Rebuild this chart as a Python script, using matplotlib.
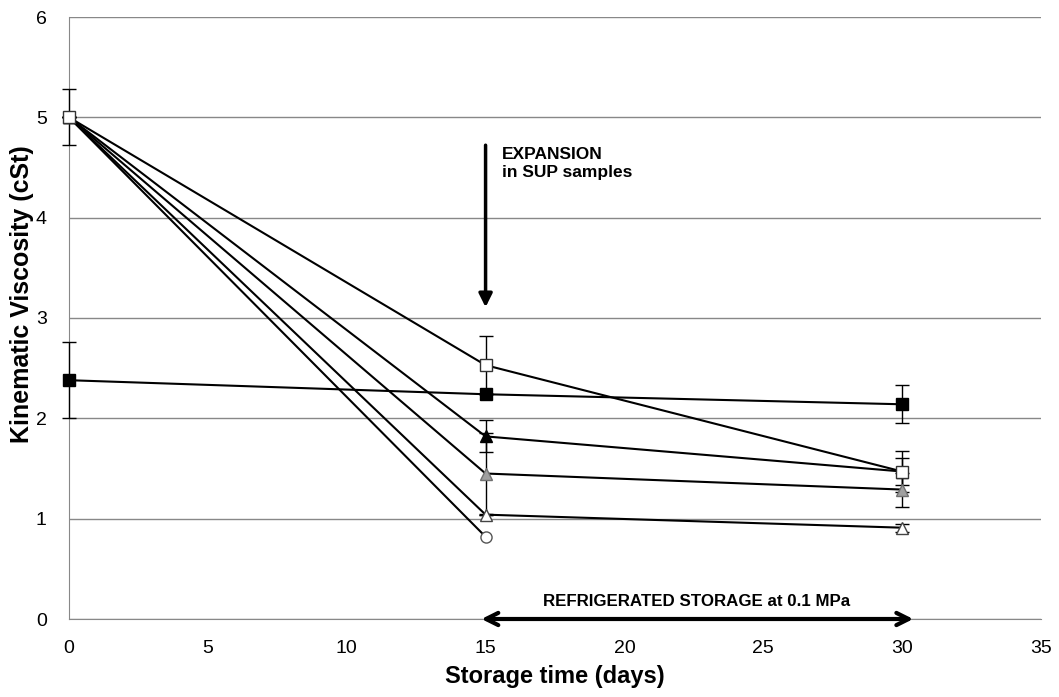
import matplotlib
matplotlib.use("Agg")
import matplotlib.pyplot as plt

plt.rcParams['font.family'] = ['Liberation Sans', 'DejaVu Sans']

days = [0, 15, 30]
# series values
open_sq = [5.0, 2.53, 1.47]
open_sq_err = [0.28, 0.29, 0.20]
filled_sq = [2.38, 2.24, 2.14]
filled_sq_err = [0.38, 0.0, 0.19]
filled_tri = [5.0, 1.82, 1.47]
filled_tri_err = [0.0, 0.16, 0.13]
grey_tri = [5.0, 1.45, 1.29]
grey_tri_err = [0.0, 0.40, 0.17]
open_tri = [5.0, 1.04, 0.91]
open_tri_err = [0.0, 0.0, 0.04]
circle_days = [0, 15]
open_circ = [5.0, 0.82]

fig = plt.figure(figsize=(10.59, 6.97), dpi=100)
ax = fig.add_axes([69/1059, (697-619)/697, (1041-69)/1059, (619-17)/697])

lkw = dict(color='black', lw=1.5, ms=8, mew=1, capsize=5, elinewidth=1, ecolor='black', zorder=3)
ax.plot(circle_days, open_circ, marker='o', mfc='white', mec='#555555', color='black',
        lw=1.5, ms=8, zorder=3, clip_on=False)
series = [
    (open_tri, open_tri_err, '^', 'white', '#444444'),
    (grey_tri, grey_tri_err, '^', '#a0a0a0', '#707070'),
    (filled_tri, filled_tri_err, '^', 'black', 'black'),
    (filled_sq, filled_sq_err, 's', 'black', 'black'),
    (open_sq, open_sq_err, 's', 'white', '#333333'),
]
for vals, err, mk, fc, ec in series:
    cont = ax.errorbar(days, vals, yerr=err, marker=mk, mfc=fc, mec=ec, **lkw)
    for art in cont.get_children():
        art.set_clip_on(False)

ax.set_xlim(0, 35)
ax.set_ylim(0, 6)
ax.set_xticks(range(0, 36, 5))
ax.set_yticks(range(0, 7))
ax.yaxis.grid(True, color='#888888', lw=1)
ax.set_axisbelow(True)
for s in ['top', 'right']:
    ax.spines[s].set_visible(False)
ax.spines['left'].set_color('#888888')
ax.spines['bottom'].set_color('#888888')
ax.tick_params(axis='both', length=0, labelsize=14)
ax.tick_params(axis='x', pad=15)
ax.tick_params(axis='y', pad=16)
ax.set_xlabel('Storage time (days)', fontsize=17, fontweight='bold', va='center')
ax.set_ylabel('Kinematic Viscosity (cSt)', fontsize=18, fontweight='bold', va='center')
ax.xaxis.set_label_coords(0.50, -0.096)
ax.yaxis.set_label_coords(-0.048, 0.54)

ax.annotate('', xy=(15, 3.08), xytext=(15, 4.75),
            arrowprops=dict(arrowstyle='-|>', lw=2.5, color='black', mutation_scale=20))
ax.text(15.6, 4.7, 'EXPANSION\nin SUP samples', fontsize=12.5, fontweight='bold', va='top', ha='left')

ax.annotate('', xy=(14.85, 0.0), xytext=(30.4, 0.0),
            arrowprops=dict(arrowstyle='<->', lw=3, color='black', mutation_scale=22,
                            shrinkA=0, shrinkB=0), annotation_clip=False)
ax.text(22.6, 0.17, 'REFRIGERATED STORAGE at 0.1 MPa', fontsize=12.2, fontweight='bold',
        ha='center', va='center')

fig.savefig('out.png', dpi=100)
